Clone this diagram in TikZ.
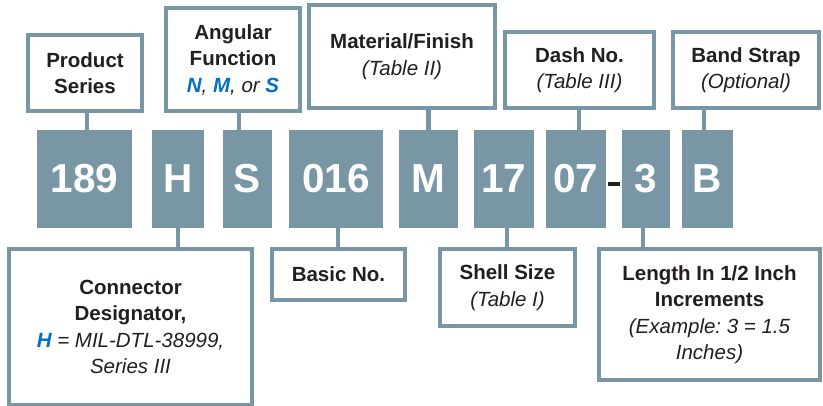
\documentclass[tikz,border=0pt]{standalone}
\usepackage{fontspec}
\setmainfont{Liberation Sans}
\frenchspacing
\definecolor{slate}{RGB}{121,150,164}
\definecolor{ink}{RGB}{35,31,32}
\definecolor{hblue}{RGB}{0,112,192}
\newcommand{\itl}[1]{{\mdseries\itshape #1}}
\newcommand{\hb}[1]{{\bfseries\itshape\color{hblue}#1}}
\tikzset{
  lbl/.style={draw=slate, line width=4pt, fill=white, align=center, text=ink,
    font=\fontsize{20.5}{26.5}\selectfont\bfseries, inner sep=0pt},
  code/.style={fill=slate, text=white, minimum height=98pt, inner sep=0pt,
    font=\fontsize{40.5}{44}\selectfont\bfseries},
  conn/.style={draw=slate, line width=4.5pt}
}
\begin{document}
\begin{tikzpicture}[x=1pt,y=-1pt]
\useasboundingbox (0,0) rectangle (823,406);
% code boxes
\node[code, minimum width=95pt] (c189) at (84.5,179) {189};
\node[code, minimum width=52pt] (cH) at (178,179) {H};
\node[code, minimum width=49pt] (cS) at (247.5,179) {S};
\node[code, minimum width=94pt] (c016) at (336,179) {016};
\node[code, minimum width=59pt] (cM) at (428.5,179) {M};
\node[code, minimum width=60pt] (c17) at (504,179) {17};
\node[code, minimum width=60pt] (c07) at (576,179) {07};
\node[code, minimum width=48pt] (c3) at (646,179) {3};
\node[code, minimum width=51pt] (cB) at (707.5,179) {B};
\node[fill=ink, minimum width=12pt, minimum height=4pt, inner sep=0pt] (dsh) at (614,184) {};
% top label boxes
\node[lbl, minimum width=114pt, minimum height=76pt] (ps) at (85,73) {Product\\Series};
\node[lbl, minimum width=134pt, minimum height=103pt] (ang) at (233,59.5) {Angular\\Function\\\hb{N}\itl{,} \hb{M}\itl{, or} \hb{S}};
\node[lbl, minimum width=186pt, minimum height=103pt] (mat) at (402,56.5) {Material/Finish\\\itl{(Table II)}};
\node[lbl, minimum width=149pt, minimum height=76pt] (dno) at (579.5,70) {Dash No.\\\itl{(Table III)}};
\node[lbl, minimum width=146pt, minimum height=76pt] (band) at (746,70) {Band Strap\\\itl{(Optional)}};
% bottom label boxes
\node[lbl, minimum width=243pt, minimum height=156pt] (cd) at (130.5,327) {Connector\\Designator,\\\hb{H}\itl{ = MIL-DTL-38999,}\\\itl{Series III}};
\node[lbl, minimum width=133pt, minimum height=51pt] (basic) at (338.5,274.5) {Basic No.};
\node[lbl, minimum width=135pt, minimum height=77pt] (shell) at (507.5,287.5) {Shell Size\\\itl{(Table I)}};
\node[lbl, minimum width=221pt, minimum height=131pt] (len) at (709.5,314.5) {Length In 1/2 Inch\\Increments\\\itl{(Example: 3 = 1.5}\\\itl{Inches)}};
% connectors
\draw[conn] ([xshift=2.5pt]c189.north) -- ([xshift=2.5pt]c189.north |- ps.south);
\draw[conn] ([xshift=-8.5pt]cS.north) -- ([xshift=-8.5pt]cS.north |- ang.south);
\draw[conn] (cM.north) -- (cM.north |- mat.south);
\draw[conn] ([xshift=3pt]c07.north) -- ([xshift=3pt]c07.north |- dno.south);
\draw[conn] ([xshift=-3.5pt]cB.north) -- ([xshift=-3.5pt]cB.north |- band.south);
\draw[conn] (cH.south) -- (cH.south |- cd.north);
\draw[conn] ([xshift=2pt]c016.south) -- ([xshift=2pt]c016.south |- basic.north);
\draw[conn] ([xshift=3pt]c17.south) -- ([xshift=3pt]c17.south |- shell.north);
\draw[conn] ([xshift=-3pt]c3.south) -- ([xshift=-3pt]c3.south |- len.north);
\end{tikzpicture}
\end{document}
